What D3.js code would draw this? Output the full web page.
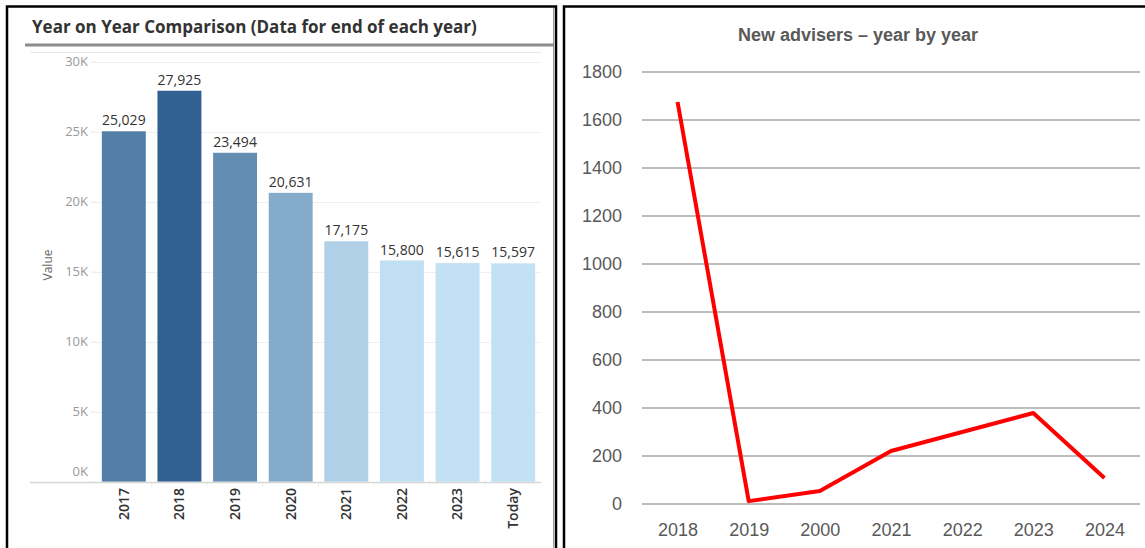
<!DOCTYPE html>
<html>
<head>
<meta charset="utf-8">
<script src="https://cdn.jsdelivr.net/npm/d3@7"></script>
<style>
  body { margin: 0; background: #fff; }
  svg { display: block; }
</style>
</head>
<body>
<div id="chart"></div>
<script>
// Left panel: year-end totals
const barYears = ['2017', '2018', '2019', '2020', '2021', '2022', '2023', 'Today'];
const barValues = [25029, 27925, 23494, 20631, 17175, 15800, 15615, 15597];
const barTicks = [0, 5000, 10000, 15000, 20000, 25000, 30000];

// Right panel: new advisers per year
const lineYears = ['2018', '2019', '2000', '2021', '2022', '2023', '2024'];
const lineValues = [1675, 12, 54, 221, 300, 379, 108];
const lineTicks = [0, 200, 400, 600, 800, 1000, 1200, 1400, 1600, 1800];

const W = 1145, H = 548;
const svg = d3.select('#chart').append('svg')
    .attr('width', W).attr('height', H);

// panel frames
const frame = svg.append('g').attr('fill', 'none').attr('stroke', '#000').attr('stroke-width', 2.5);
frame.append('path').attr('d', 'M7,550 V6.5 H556 V550');
frame.append('path').attr('d', 'M564,550 V6.5 H1150');
svg.append('line').attr('x1', 553.5).attr('x2', 553.5).attr('y1', 8).attr('y2', 550)
    .attr('stroke', '#9a9a9a').attr('stroke-width', 1);

// ---------- left: bar chart ----------
const tabFont = '"Open Sans", "Noto Sans", sans-serif';
const left = svg.append('g');

left.append('text')
    .attr('x', 32).attr('y', 33)
    .attr('font-family', tabFont).attr('font-weight', 700).attr('font-size', 17)
    .attr('fill', '#333')
    .text('Year on Year Comparison (Data for end of each year)');
left.append('line').attr('x1', 25).attr('x2', 554).attr('y1', 45).attr('y2', 45)
    .attr('stroke', '#8c8c8c').attr('stroke-width', 3);
left.append('line').attr('x1', 30).attr('x2', 541).attr('y1', 52.5).attr('y2', 52.5)
    .attr('stroke', '#e8e8e8').attr('stroke-width', 1);

const bx = d3.scaleBand().domain(barYears).range([96, 541]).paddingInner(0.21).paddingOuter(0.105);
const by = d3.scaleLinear().domain([0, 30000]).range([481.7, 61.7]);
const barColor = d3.scaleLinear()
    .domain([d3.min(barValues), d3.max(barValues)])
    .range(['#c3e1f4', '#316190'])
    .interpolate(d3.interpolateHcl);

// gridlines
left.append('g').selectAll('line').data(barTicks.slice(1)).join('line')
    .attr('x1', 96).attr('x2', 541)
    .attr('y1', d => Math.round(by(d)) + 0.5).attr('y2', d => Math.round(by(d)) + 0.5)
    .attr('stroke', '#efefef');

const yAxisL = left.append('g').attr('transform', 'translate(96,0)')
    .call(d3.axisLeft(by).tickValues(barTicks).tickFormat(d => (d / 1000) + 'K').tickSize(5).tickPadding(3));
yAxisL.select('.domain').remove();
yAxisL.selectAll('line').attr('stroke', '#e6e6e6');
yAxisL.selectAll('text').attr('font-family', tabFont).attr('font-size', 13).attr('fill', '#999');
// bottom label sits above the baseline, as in the original
yAxisL.selectAll('.tick').filter(d => d === 0).select('text').attr('y', -10);

left.append('text')
    .attr('transform', 'translate(52,265) rotate(-90)')
    .attr('text-anchor', 'middle')
    .attr('font-family', tabFont).attr('font-size', 12).attr('fill', '#666')
    .text('Value');

const bars = barYears.map((y, i) => ({ year: y, value: barValues[i] }));

left.append('g').selectAll('rect').data(bars).join('rect')
    .attr('x', d => bx(d.year))
    .attr('width', bx.bandwidth())
    .attr('y', d => by(d.value))
    .attr('height', d => by(0) - by(d.value))
    .attr('fill', d => barColor(d.value));

left.append('g').selectAll('text').data(bars).join('text')
    .attr('x', d => bx(d.year) + bx.bandwidth() / 2)
    .attr('y', d => by(d.value) - 6)
    .attr('text-anchor', 'middle')
    .attr('font-family', tabFont).attr('font-size', 14).attr('fill', '#333')
    .text(d => d3.format(',')(d.value));

// baseline + x axis
left.append('line').attr('x1', 30).attr('x2', 541).attr('y1', 482.5).attr('y2', 482.5)
    .attr('stroke', '#d6d6d6').attr('stroke-width', 1.5);
const xAxisL = left.append('g').attr('transform', 'translate(0,483)')
    .call(d3.axisBottom(bx).tickSize(0).tickPadding(0));
xAxisL.select('.domain').remove();
xAxisL.selectAll('.tick text')
    .attr('transform', 'rotate(-90)')
    .attr('x', -5).attr('y', 0).attr('dy', '0.35em')
    .attr('text-anchor', 'end')
    .attr('font-family', tabFont).attr('font-weight', 600).attr('font-size', 14)
    .attr('fill', '#333');
left.append('g').selectAll('line').data(barYears.slice(1)).join('line')
    .attr('x1', d => bx(d) - bx.step() * bx.paddingInner() / 2)
    .attr('x2', d => bx(d) - bx.step() * bx.paddingInner() / 2)
    .attr('y1', 483).attr('y2', 487)
    .attr('stroke', '#eeeeee');

// ---------- right: line chart ----------
const xlFont = '"Liberation Sans", Arial, sans-serif';
const right = svg.append('g');

right.append('text')
    .attr('x', 858).attr('y', 41)
    .attr('text-anchor', 'middle')
    .attr('font-family', xlFont).attr('font-weight', 700).attr('font-size', 18)
    .attr('fill', '#595959')
    .text('New advisers \u2013 year by year');

const lx = d3.scalePoint().domain(lineYears).range([642, 1140]).padding(0.5);
const ly = d3.scaleLinear().domain([0, 1800]).range([504, 72]);

right.append('g').selectAll('line').data(lineTicks).join('line')
    .attr('x1', 642).attr('x2', 1140)
    .attr('y1', d => ly(d)).attr('y2', d => ly(d))
    .attr('stroke', '#bdbdbd').attr('stroke-width', 2);

const yAxisR = right.append('g').attr('transform', 'translate(622,0)')
    .call(d3.axisLeft(ly).tickValues(lineTicks).tickFormat(d3.format('d')).tickSize(0).tickPadding(0));
yAxisR.select('.domain').remove();
yAxisR.selectAll('text').attr('font-family', xlFont).attr('font-size', 18).attr('fill', '#595959');

const xAxisR = right.append('g').attr('transform', 'translate(0,523)')
    .call(d3.axisBottom(lx).tickSize(0).tickPadding(0));
xAxisR.select('.domain').remove();
xAxisR.selectAll('text').attr('font-family', xlFont).attr('font-size', 18).attr('fill', '#595959');

const pts = lineYears.map((y, i) => ({ year: y, value: lineValues[i] }));
right.append('path').datum(pts)
    .attr('fill', 'none').attr('stroke', '#ff0000').attr('stroke-width', 4)
    .attr('stroke-linejoin', 'round')
    .attr('d', d3.line().x(d => lx(d.year)).y(d => ly(d.value)));
</script>
</body>
</html>
